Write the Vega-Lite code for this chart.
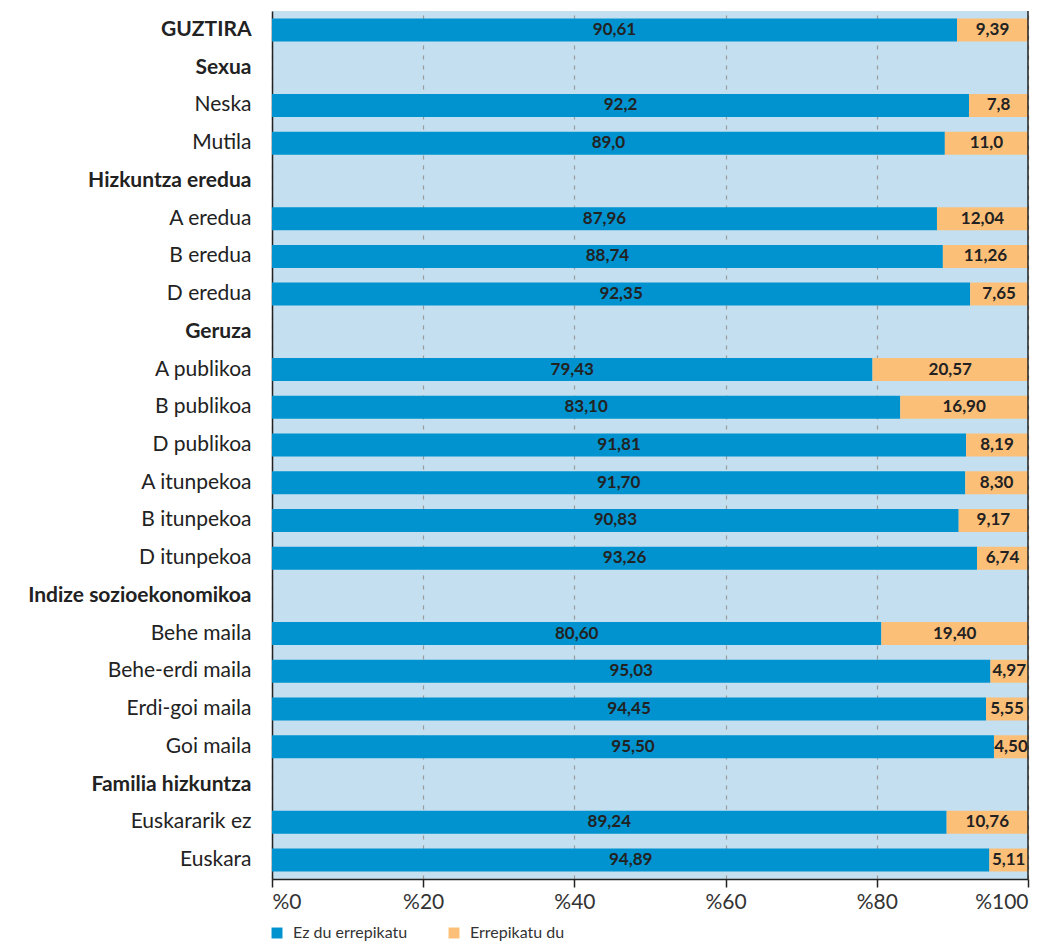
{
  "$schema": "https://vega.github.io/schema/vega-lite/v6.json",
  "autosize": {"type": "none"},
  "padding": {"left": 272, "top": 11, "right": 27, "bottom": 65},
  "width": 756,
  "height": 868,
  "background": "white",
  "config": {
    "view": {"fill": "#c4dff0", "stroke": null},
    "font": "Lato"
  },
  "datasets": {
    "rows": [
      {"cat": "GUZTIRA", "status": "Ez du errepikatu", "value": 90.61, "label": "90,61"},
      {"cat": "GUZTIRA", "status": "Errepikatu du", "value": 9.39, "label": "9,39"},
      {"cat": "Neska", "status": "Ez du errepikatu", "value": 92.2, "label": "92,2"},
      {"cat": "Neska", "status": "Errepikatu du", "value": 7.8, "label": "7,8"},
      {"cat": "Mutila", "status": "Ez du errepikatu", "value": 89.0, "label": "89,0"},
      {"cat": "Mutila", "status": "Errepikatu du", "value": 11.0, "label": "11,0"},
      {"cat": "A eredua", "status": "Ez du errepikatu", "value": 87.96, "label": "87,96"},
      {"cat": "A eredua", "status": "Errepikatu du", "value": 12.04, "label": "12,04"},
      {"cat": "B eredua", "status": "Ez du errepikatu", "value": 88.74, "label": "88,74"},
      {"cat": "B eredua", "status": "Errepikatu du", "value": 11.26, "label": "11,26"},
      {"cat": "D eredua", "status": "Ez du errepikatu", "value": 92.35, "label": "92,35"},
      {"cat": "D eredua", "status": "Errepikatu du", "value": 7.65, "label": "7,65"},
      {"cat": "A publikoa", "status": "Ez du errepikatu", "value": 79.43, "label": "79,43"},
      {"cat": "A publikoa", "status": "Errepikatu du", "value": 20.57, "label": "20,57"},
      {"cat": "B publikoa", "status": "Ez du errepikatu", "value": 83.10, "label": "83,10"},
      {"cat": "B publikoa", "status": "Errepikatu du", "value": 16.90, "label": "16,90"},
      {"cat": "D publikoa", "status": "Ez du errepikatu", "value": 91.81, "label": "91,81"},
      {"cat": "D publikoa", "status": "Errepikatu du", "value": 8.19, "label": "8,19"},
      {"cat": "A itunpekoa", "status": "Ez du errepikatu", "value": 91.70, "label": "91,70"},
      {"cat": "A itunpekoa", "status": "Errepikatu du", "value": 8.30, "label": "8,30"},
      {"cat": "B itunpekoa", "status": "Ez du errepikatu", "value": 90.83, "label": "90,83"},
      {"cat": "B itunpekoa", "status": "Errepikatu du", "value": 9.17, "label": "9,17"},
      {"cat": "D itunpekoa", "status": "Ez du errepikatu", "value": 93.26, "label": "93,26"},
      {"cat": "D itunpekoa", "status": "Errepikatu du", "value": 6.74, "label": "6,74"},
      {"cat": "Behe maila", "status": "Ez du errepikatu", "value": 80.60, "label": "80,60"},
      {"cat": "Behe maila", "status": "Errepikatu du", "value": 19.40, "label": "19,40"},
      {"cat": "Behe-erdi maila", "status": "Ez du errepikatu", "value": 95.03, "label": "95,03"},
      {"cat": "Behe-erdi maila", "status": "Errepikatu du", "value": 4.97, "label": "4,97"},
      {"cat": "Erdi-goi maila", "status": "Ez du errepikatu", "value": 94.45, "label": "94,45"},
      {"cat": "Erdi-goi maila", "status": "Errepikatu du", "value": 5.55, "label": "5,55"},
      {"cat": "Goi maila", "status": "Ez du errepikatu", "value": 95.50, "label": "95,50"},
      {"cat": "Goi maila", "status": "Errepikatu du", "value": 4.50, "label": "4,50"},
      {"cat": "Euskararik ez", "status": "Ez du errepikatu", "value": 89.24, "label": "89,24"},
      {"cat": "Euskararik ez", "status": "Errepikatu du", "value": 10.76, "label": "10,76"},
      {"cat": "Euskara", "status": "Ez du errepikatu", "value": 94.89, "label": "94,89"},
      {"cat": "Euskara", "status": "Errepikatu du", "value": 5.11, "label": "5,11"}
    ],
    "edge": [{"x": 100}]
  },
  "layer": [
    {
      "data": {"name": "rows"},
      "transform": [
        {"stack": "value", "groupby": ["cat"], "as": ["v0", "v1"], "sort": [{"field": "status", "order": "descending"}]},
        {"calculate": "(datum.v0 + datum.v1) / 2", "as": "mid"}
      ],
      "layer": [
        {
          "mark": {"type": "bar"},
          "encoding": {
            "y": {
              "field": "cat", "type": "nominal",
              "scale": {
                "domain": ["GUZTIRA", "Sexua", "Neska", "Mutila", "Hizkuntza eredua", "A eredua", "B eredua", "D eredua", "Geruza", "A publikoa", "B publikoa", "D publikoa", "A itunpekoa", "B itunpekoa", "D itunpekoa", "Indize sozioekonomikoa", "Behe maila", "Behe-erdi maila", "Erdi-goi maila", "Goi maila", "Familia hizkuntza", "Euskararik ez", "Euskara"],
                "paddingInner": 0.39, "paddingOuter": 0.2
              },
              "axis": {
                "title": null,
                "ticks": false,
                "labelPadding": 21,
                "labelFontSize": 21,
                "labelColor": "#222",
                "labelLimit": 400,
                "labelFontWeight": {"condition": {"test": "indexof(['GUZTIRA','Sexua','Hizkuntza eredua','Geruza','Indize sozioekonomikoa','Familia hizkuntza'], datum.value) >= 0", "value": "bold"}, "value": "normal"},
                "domainColor": "#222",
                "domainWidth": 1.5
              }
            },
            "x": {
              "field": "v0", "type": "quantitative",
              "scale": {"domain": [0, 100], "nice": false},
              "axis": {
                "title": null,
                "values": [0, 20, 40, 60, 80, 100],
                "labelExpr": "'%' + datum.value",
                "labelFontSize": 21,
                "labelColor": "#333",
                "labelPadding": 4,
                "tickSize": 8,
                "tickColor": "#222",
                "tickWidth": 1.5,
                "domainColor": "#222",
                "domainWidth": 1.5,
                "grid": true,
                "gridColor": "#9a9a9a",
                "gridDash": [4, 6],
                "gridWidth": 1.2
              }
            },
            "x2": {"field": "v1"},
            "color": {
              "field": "status", "type": "nominal",
              "scale": {"domain": ["Ez du errepikatu", "Errepikatu du"], "range": ["#0093cf", "#fcbf78"]},
              "legend": {
                "title": null,
                "orient": "none",
                "direction": "horizontal",
                "legendX": -3,
                "legendY": 914,
                "symbolType": "square",
                "symbolSize": 120,
                "symbolStrokeWidth": 0,
                "labelFontSize": 16,
                "labelColor": "#333",
                "columnPadding": 38,
                "labelOffset": 8
              }
            }
          }
        },
        {
          "mark": {"type": "text", "fontWeight": "bold", "fontSize": 17, "color": "#222", "align": "center", "baseline": "middle"},
          "encoding": {
            "y": {"field": "cat", "type": "nominal"},
            "x": {"field": "mid", "type": "quantitative"},
            "text": {"field": "label", "type": "nominal"}
          }
        }
      ]
    },
    {
      "data": {"name": "edge"},
      "mark": {"type": "rule", "color": "#222", "strokeWidth": 1.5},
      "encoding": {
        "x": {"field": "x", "type": "quantitative"}
      }
    }
  ]
}
